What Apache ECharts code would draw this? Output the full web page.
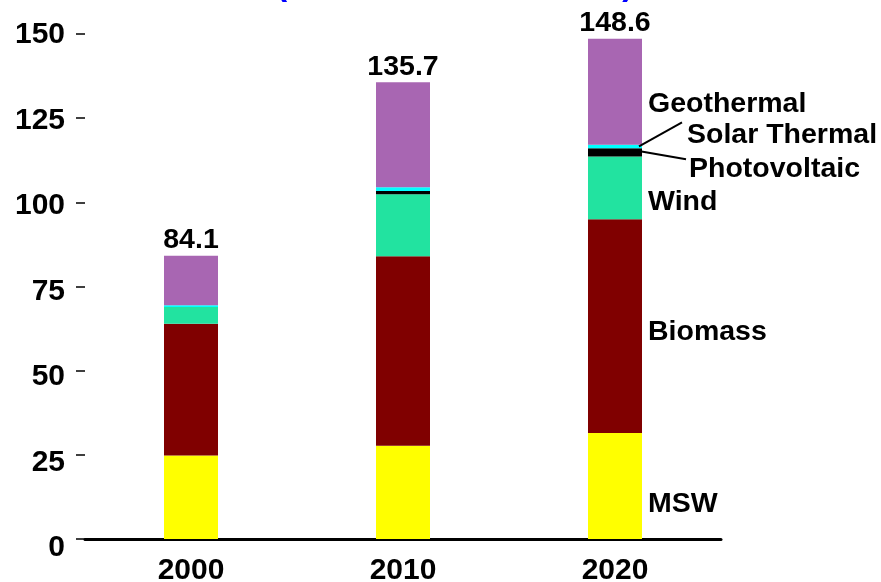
<!DOCTYPE html>
<html>
<head>
<meta charset="utf-8">
<script src="https://cdn.jsdelivr.net/npm/echarts@6/dist/echarts.min.js"></script>
<style>
  html, body { margin: 0; padding: 0; background: #fff; }
  #chart { width: 881px; height: 582px; }
</style>
</head>
<body>
<div id="chart"></div>
<script>
var categories = ['2000', '2010', '2020'];
var msw = [24.8, 27.7, 31.5];
var biomass = [39.1, 56.3, 63.5];
var wind = [5.0, 18.4, 18.6];
var photovoltaic = [0.0, 1.0, 2.5];
var solarThermal = [0.5, 1.1, 1.0];
var geothermal = [14.7, 31.2, 31.5];
var totals = [84.1, 135.7, 148.6];
var yTicks = [0, 25, 50, 75, 100, 125, 150];

var FONT = '"Liberation Sans", Arial, sans-serif';

// y tick labels sit slightly below their ticks, more so near the bottom
var yLabelRich = {};
yTicks.forEach(function (t) {
  yLabelRich['s' + t] = { lineHeight: 18 - 0.11 * t };
});

function seg(name, data, color, labelOffset) {
  return {
    name: name,
    type: 'bar',
    stack: 'total',
    barWidth: 54,
    data: data.map(function (v, i) {
      var item = { value: v };
      if (i === data.length - 1) {
        item.label = {
          show: true,
          position: 'right',
          distance: 6,
          offset: labelOffset,
          formatter: name,
          color: '#000',
          fontFamily: FONT,
          fontWeight: 'bold',
          fontSize: 28.5
        };
      }
      return item;
    }),
    itemStyle: { color: color },
    emphasis: { disabled: true }
  };
}

var chart = echarts.init(document.getElementById('chart'));
var option = {
  animation: false,
  backgroundColor: '#ffffff',
  title: {
    text: '(Billion Kilowatthours)',
    left: 271,
    top: -36,
    textStyle: { color: '#0000ff', fontFamily: FONT, fontWeight: 'bold', fontSize: 33.5 }
  },
  grid: { left: 85, right: 160, top: 34, bottom: 43, containLabel: false, outerBoundsMode: 'none' },
  xAxis: {
    type: 'category',
    data: categories,
    axisLine: { lineStyle: { color: '#000', width: 3 } },
    axisTick: { show: false },
    axisLabel: { color: '#000', fontFamily: FONT, fontWeight: 'bold', fontSize: 30, margin: 17 }
  },
  yAxis: {
    type: 'value',
    min: yTicks[0],
    max: yTicks[yTicks.length - 1],
    interval: 25,
    splitLine: { show: false },
    axisLine: { show: false },
    axisTick: { show: true, length: 9, lineStyle: { color: '#000', width: 1.5 } },
    axisLabel: {
      color: '#000', fontFamily: FONT, fontWeight: 'bold', fontSize: 30, margin: 20,
      verticalAlign: 'top',
      formatter: function (v) { return '{s' + v + '|' + v + '}'; },
      rich: yLabelRich
    }
  },
  series: [
    seg('MSW', msw, '#ffff00', [0, 18.5]),
    seg('Biomass', biomass, '#800000', [0, 6.5]),
    seg('Wind', wind, '#22e3a0', [0, 14.5]),
    seg('Photovoltaic', photovoltaic, '#000000', [41, 16.5]),
    seg('Solar Thermal', solarThermal, '#00ffff', [39, -11.5]),
    seg('Geothermal', geothermal, '#a866b2', [0, 12.5]),
    {
      name: 'Total',
      type: 'bar',
      barWidth: 54,
      barGap: '-100%',
      z: 1,
      data: totals,
      itemStyle: { color: 'rgba(0,0,0,0)' },
      label: {
        show: true,
        position: 'top',
        distance: 1,
        color: '#000',
        fontFamily: FONT,
        fontWeight: 'bold',
        fontSize: 28.5
      },
      emphasis: { disabled: true }
    }
  ]
};
chart.setOption(option);

// leader lines for the small segments, positioned from the library's scales
(function () {
  var last = categories.length - 1;
  var pvBase = msw[last] + biomass[last] + wind[last];
  var pvMid = pvBase + photovoltaic[last] / 2;
  var stMid = pvBase + photovoltaic[last] + solarThermal[last] / 2;
  var pPv = chart.convertToPixel({ seriesIndex: 3 }, [categories[last], pvMid]);
  var pSt = chart.convertToPixel({ seriesIndex: 4 }, [categories[last], stMid]);
  var halfW = 27;
  chart.setOption({
    graphic: [
      {
        type: 'polyline',
        shape: { points: [[pSt[0] + halfW - 3, pSt[1]], [pSt[0] + halfW + 40, pSt[1] - 24]] },
        style: { stroke: '#000', lineWidth: 2, fill: null },
        z: 10
      },
      {
        type: 'polyline',
        shape: { points: [[pPv[0] + halfW - 2, pPv[1] - 1], [pPv[0] + halfW + 44, pPv[1] + 7]] },
        style: { stroke: '#000', lineWidth: 2, fill: null },
        z: 10
      }
    ]
  });
})();
</script>
</body>
</html>
